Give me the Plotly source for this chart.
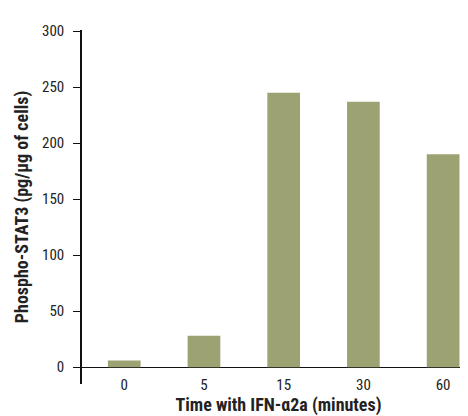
import plotly.graph_objects as go

categories = ["0", "5", "15", "30", "60"]
values = [6, 28, 245, 237, 190]
y_ticks = [0, 50, 100, 150, 200, 250, 300]

font_family = "Liberation Sans Narrow, Roboto Condensed, Arial Narrow, sans-serif"

fig = go.Figure(go.Bar(
    x=categories, y=values, marker_color="#9da272", marker_line_width=0,
    width=0.41,
))

fig.update_layout(
    width=468, height=416,
    margin=dict(l=74, r=1, t=22, b=40),
    plot_bgcolor="white", paper_bgcolor="white",
    font=dict(family=font_family, size=15, color="#222"),
    showlegend=False,
)
fig.update_xaxes(
    type="category", range=[-0.53, 4.4],
    anchor="free", position=0.028,
    showline=False, showgrid=False, zeroline=False, ticks="",
    tickfont=dict(size=15),
    title=dict(text="<b>Time with IFN-α2a (minutes)</b>", font=dict(size=18), standoff=0),
)
fig.update_yaxes(
    range=[-15, 301], tickvals=y_ticks,
    showline=True, linecolor="#111", linewidth=1.5,
    ticks="outside", ticklen=7, tickcolor="#111", tickwidth=1,
    ticklabelstandoff=6,
    showgrid=False, zeroline=True, zerolinecolor="#111", zerolinewidth=1,
    tickfont=dict(size=15),
    title=dict(text="<b>Phospho-STAT3 (pg/μg of cells)</b>", font=dict(size=18), standoff=9),
)

fig.write_html("out.html")
